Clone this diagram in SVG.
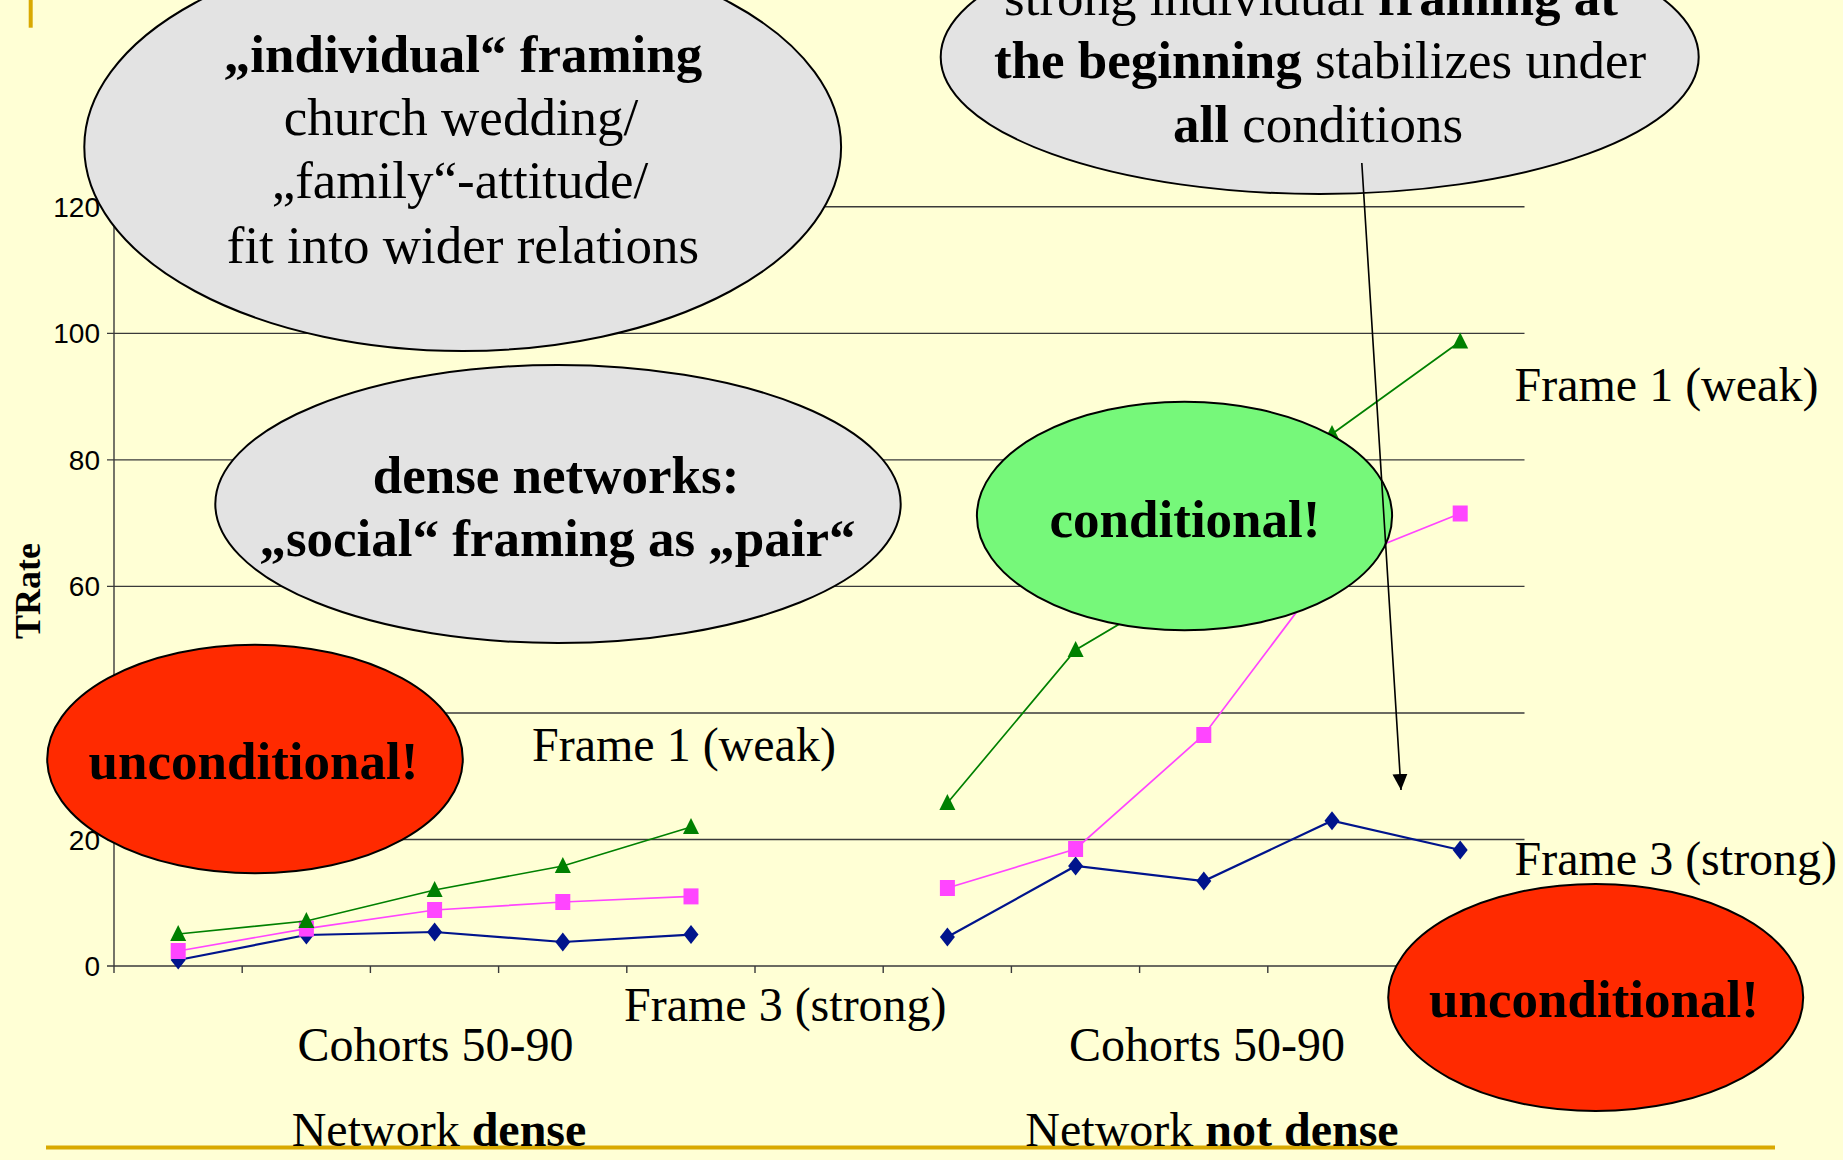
<svg xmlns="http://www.w3.org/2000/svg" width="1843" height="1160" viewBox="0 0 1843 1160">
<style>
.grid{stroke:#3a3a3a;stroke-width:1.4;fill:none}
.ytick{font-family:"Liberation Sans",Arial,sans-serif;font-size:28px;fill:#000;text-anchor:end}
.lbl{font-family:"Liberation Serif","Times New Roman",serif;font-size:48px;fill:#000}
.big{font-family:"Liberation Serif","Times New Roman",serif;font-size:53px;fill:#000;text-anchor:middle}
.b{font-weight:bold}
.gray{fill:#e3e3e3;stroke:#000;stroke-width:2}
.red{fill:#ff2a00;stroke:#000;stroke-width:2}
.green{fill:#76f87a;stroke:#000;stroke-width:2}
.sg{stroke:#008000;stroke-width:1.7;fill:none}
.sp{stroke:#ff45ff;stroke-width:1.7;fill:none}
.sb{stroke:#00148c;stroke-width:2.2;fill:none}
.gold{stroke:#d9a900;stroke-width:4}
</style>
<defs>
<polygon id="tri" points="0,-9 8,7 -8,7" fill="#008000"/>
<rect id="sq" x="-7.5" y="-8" width="15" height="16" fill="#ff45ff"/>
<polygon id="dia" points="0,-9.5 7.5,0 0,9.5 -7.5,0" fill="#00148c"/>
<marker id="ah" viewBox="0 0 16 16" refX="16" refY="8" markerWidth="16" markerHeight="16" markerUnits="userSpaceOnUse" orient="auto">
<path d="M0,0.5 L16,8 L0,15.5 z" fill="#000"/>
</marker>
</defs>
<rect width="1843" height="1160" fill="#ffffd5"/>
<line class="gold" x1="30.7" y1="0" x2="30.7" y2="27.7"/>
<line class="gold" x1="46" y1="1147.5" x2="1775" y2="1147.5"/>

<g id="chart">
<g id="gridlines">
<line class="grid" x1="107" y1="839.5" x2="1524.5" y2="839.5"/>
<line class="grid" x1="107" y1="713" x2="1524.5" y2="713"/>
<line class="grid" x1="107" y1="586.4" x2="1524.5" y2="586.4"/>
<line class="grid" x1="107" y1="459.9" x2="1524.5" y2="459.9"/>
<line class="grid" x1="107" y1="333.4" x2="1524.5" y2="333.4"/>
<line class="grid" x1="107" y1="206.8" x2="1524.5" y2="206.8"/>
</g>
<g id="axes">
<line class="grid" x1="114" y1="206.8" x2="114" y2="973"/>
<line class="grid" x1="107" y1="966" x2="1524.5" y2="966"/>
<path class="grid" d="M242.2,966v7 M370.4,966v7 M498.6,966v7 M626.8,966v7 M755,966v7 M883.2,966v7 M1011.4,966v7 M1139.6,966v7 M1267.8,966v7 M1396,966v7 M1524.2,966v7"/>
</g>
<g id="yticks">
<text class="ytick" x="100" y="976">0</text>
<text class="ytick" x="100" y="849.5">20</text>
<text class="ytick" x="100" y="723">40</text>
<text class="ytick" x="100" y="596.4">60</text>
<text class="ytick" x="100" y="469.9">80</text>
<text class="ytick" x="100" y="343.4">100</text>
<text class="ytick" x="100" y="216.8">120</text>
</g>
<text transform="translate(40,591) rotate(-90)" font-family="'Liberation Serif','Times New Roman',serif" font-size="36" font-weight="bold" text-anchor="middle">TRate</text>

<g id="series-blue">
<polyline class="sb" points="178.2,960 306.4,935 434.6,932 562.8,942 691,934.6"/>
<polyline class="sb" points="947.4,937 1075.6,866 1203.8,881 1332,820.7 1460.2,850"/>
<use href="#dia" x="178.2" y="960"/><use href="#dia" x="306.4" y="935"/><use href="#dia" x="434.6" y="932"/><use href="#dia" x="562.8" y="942"/><use href="#dia" x="691" y="934.6"/>
<use href="#dia" x="947.4" y="937"/><use href="#dia" x="1075.6" y="866"/><use href="#dia" x="1203.8" y="881"/><use href="#dia" x="1332" y="820.7"/><use href="#dia" x="1460.2" y="850"/>
</g>
<g id="series-pink">
<polyline class="sp" points="178.2,951 306.4,928.6 434.6,910 562.8,902 691,896.4"/>
<polyline class="sp" points="947.4,888 1075.6,849 1203.8,735 1332,565 1460.2,513.5"/>
<use href="#sq" x="178.2" y="951"/><use href="#sq" x="306.4" y="928.6"/><use href="#sq" x="434.6" y="910"/><use href="#sq" x="562.8" y="902"/><use href="#sq" x="691" y="896.4"/>
<use href="#sq" x="947.4" y="888"/><use href="#sq" x="1075.6" y="849"/><use href="#sq" x="1203.8" y="735"/><use href="#sq" x="1332" y="565"/><use href="#sq" x="1460.2" y="513.5"/>
</g>
<g id="series-green">
<polyline class="sg" points="178.2,934 306.4,921 434.6,890 562.8,866 691,827"/>
<polyline class="sg" points="947.4,803 1075.6,650 1203.8,574 1332,434 1460.2,341.5"/>
<use href="#tri" x="178.2" y="934"/><use href="#tri" x="306.4" y="921"/><use href="#tri" x="434.6" y="890"/><use href="#tri" x="562.8" y="866"/><use href="#tri" x="691" y="827"/>
<use href="#tri" x="947.4" y="803"/><use href="#tri" x="1075.6" y="650"/><use href="#tri" x="1203.8" y="574"/><use href="#tri" x="1332" y="434"/><use href="#tri" x="1460.2" y="341.5"/>
</g>
<g id="chart-labels">
<text class="lbl" x="532" y="761">Frame 1 (weak)</text>
<text class="lbl" x="624" y="1021">Frame 3 (strong)</text>
<text class="lbl" x="435.5" y="1060.5" text-anchor="middle">Cohorts 50-90</text>
<text class="lbl" x="439" y="1146" text-anchor="middle">Network <tspan class="b">dense</tspan></text>
<text class="lbl" x="1207" y="1060.5" text-anchor="middle">Cohorts 50-90</text>
<text class="lbl" x="1212" y="1146" text-anchor="middle">Network <tspan class="b">not dense</tspan></text>
<text class="lbl" x="1514.5" y="401">Frame 1 (weak)</text>
</g>
</g>

<g id="node-individual">
<ellipse class="gray" cx="462.7" cy="147" rx="378.4" ry="204"/>
<text class="big b" x="463" y="71.7">„individual“ framing</text>
<text class="big" x="461" y="135">church wedding/</text>
<text class="big" x="460" y="198">„family“-attitude/</text>
<text class="big" x="463" y="263">fit into wider relations</text>
</g>
<g id="node-strong">
<ellipse class="gray" cx="1319.7" cy="57" rx="379" ry="137"/>
<text class="big" x="1311" y="15">strong individual <tspan class="b">framing at</tspan></text>
<text class="big" x="1320" y="78"><tspan class="b">the beginning</tspan> stabilizes under</text>
<text class="big" x="1318" y="141.7"><tspan class="b">all</tspan> conditions</text>
</g>
<g id="node-dense">
<ellipse class="gray" cx="558" cy="504" rx="342.7" ry="139"/>
<text class="big b" x="556" y="492.7">dense networks:</text>
<text class="big b" x="557.5" y="556">„social“ framing as „pair“</text>
</g>
<g id="node-conditional">
<ellipse class="green" cx="1184.5" cy="516" rx="207.6" ry="114.2"/>
<text class="big b" x="1185" y="537">conditional!</text>
</g>
<g id="node-unconditional-left">
<ellipse class="red" cx="255" cy="759" rx="207.8" ry="114.3"/>
<text class="big b" x="253.5" y="778.6">unconditional!</text>
</g>
<g id="node-unconditional-right">
<ellipse class="red" cx="1595.7" cy="997.5" rx="207.5" ry="113.5"/>
<text class="big b" x="1594" y="1017">unconditional!</text>
</g>
<text class="lbl" x="1514.5" y="875">Frame 3 (strong)</text>

<g id="connectors">
<line x1="1361.8" y1="163" x2="1401" y2="790" stroke="#000" stroke-width="1.6" marker-end="url(#ah)"/>
</g>
</svg>
